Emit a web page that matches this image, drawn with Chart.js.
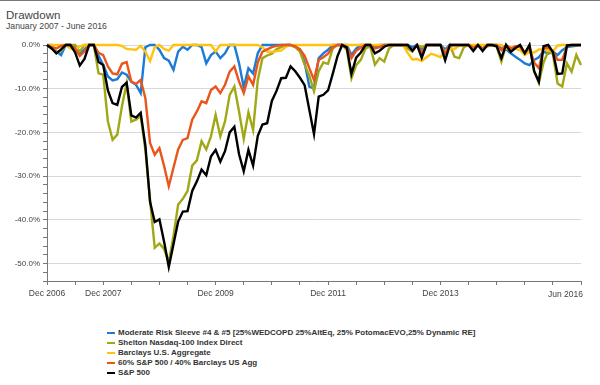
<!DOCTYPE html>
<html lang="en">
<head>
<meta charset="UTF-8">
<title>Drawdown</title>
<script src="https://cdn.jsdelivr.net/npm/chart.js"></script>
<style>
    body {
        margin: 0;
        width: 600px;
        height: 385px;
        overflow: hidden;
        background: #fff;
        position: relative;
        font-family: Arial, "Liberation Sans", sans-serif;
    }
    #topline { position: absolute; left: 0; top: 0; width: 600px; height: 1px; background: #777; }
    #title { position: absolute; left: 6px; top: 9px; font-size: 11.5px; color: #444; }
    #subtitle { position: absolute; left: 6px; top: 21px; font-size: 8.7px; color: #444; }
    #chart-box { position: absolute; left: 0; top: 0; width: 600px; height: 300px; }
    #legend { position: absolute; left: 107px; top: 328px; font-size: 8px; font-weight: bold; color: #333; }
    .item { height: 10px; line-height: 10px; white-space: nowrap; }
    .swatch { display: inline-block; width: 8px; height: 2px; vertical-align: middle; margin-right: 3px; }
</style>
</head>
<body>
<div id="topline"></div>
<div id="title">Drawdown</div>
<div id="subtitle">January 2007 - June 2016</div>
<div id="chart-box"><canvas id="ddChart"></canvas></div>
<div id="legend"></div>

<script>
    // month labels, Dec 2006 .. Jun 2016
    const monthNames = ['Jan','Feb','Mar','Apr','May','Jun','Jul','Aug','Sep','Oct','Nov','Dec'];
    const months = ['Dec 2006'];
    for (let y = 2007; y <= 2016; y++) {
        for (let i = 0; i < 12; i++) {
            if (y === 2016 && i > 5) break;
            months.push(monthNames[i] + ' ' + y);
        }
    }
    const xTickLabels = ['Dec 2006', 'Dec 2007', 'Dec 2009', 'Dec 2011', 'Dec 2013', 'Jun 2016'];

    // drawdown values in % (one row per year)
    const moderateRisk = [0,
        -0.8, -1.5, -2.3, 0, 0, -0.5, -2.0, -1.0, 0, 0, -2.5, -4.5,
        -7.2, -8.1, -7.8, -6.3, -6.8, -8.4, -9.1, -11.0, -0.5, 0, 0, -1.1,
        -3.0, -3.6, -5.7, -1.5, -0.4, -1.1, 0, 0, -0.5, -4.2, -2.3, -1.5,
        -3.0, -1.9, 0, 0, -4.2, -9.7, -5.3, -6.5, -1.9, 0, 0, 0,
        0, 0, 0, 0, -0.5, -1.0, -4.0, -9.5, -9.9, -3.0, -1.9, -1.1,
        0, 0, 0, 0, -2.3, -0.8, 0, 0, 0, -0.5, 0, 0,
        0, 0, 0, 0, 0, -0.5, 0, -1.0, 0, 0, 0, 0,
        -1.0, 0, 0, 0, 0, 0, -0.8, 0, -0.8, 0, 0, 0,
        -0.8, -1.0, -1.9, -2.7, -3.4, -4.2, -4.6, -3.4, -2.8, -1.5, -2.0, -1.5,
        -2.3, -1.2, -0.5, -0.3, -0.2, 0];
    const shelton = [0,
        0, -1.8, -1.4, 0, 0, 0, -1.5, 0, 0, 0, -6.5, -6.8,
        -17.5, -21.7, -20.5, -14.0, -8.8, -17.5, -17.1, -16.2, -24.0, -35.5, -46.4, -45.4,
        -46.7, -49.6, -43.7, -36.5, -35.2, -33.4, -27.6, -26.4, -22.0, -23.9, -20.9, -16.0,
        -20.9, -17.5, -11.4, -9.5, -15.2, -21.5, -15.4, -19.5, -8.0, -3.0, -2.4, -2.0,
        -1.0, -0.5, 0, 0, -0.5, -1.5, -4.5, -7.0, -10.6, -6.0, -4.0, -4.3,
        -0.8, 0, 0, -1.1, -7.6, -4.6, -3.4, -0.8, -0.3, -4.5, -3.0, -3.8,
        -0.8, 0, 0, 0, -0.8, -1.5, 0, -0.5, 0, 0, 0, 0,
        -1.9, 0, -2.7, -3.0, -0.5, 0, -0.5, 0, -0.8, -0.3, 0, -0.4,
        -3.8, 0, -1.5, -0.5, 0, -2.0, 0, -6.0, -8.7, -4.0, -1.5, -2.0,
        -8.8, -9.5, -4.2, -6.1, -2.3, -4.6];
    const barclaysAgg = [0,
        0, 0, 0, 0, -0.8, -1.1, -0.3, 0, 0, 0, 0, 0,
        0, 0, 0, -0.2, -0.9, -1.0, -1.1, -0.2, -1.5, -3.7, -0.5, 0,
        -0.9, -1.3, 0, 0, 0, 0, 0, 0, 0, 0, 0, -1.5,
        0, 0, 0, 0, 0, 0, 0, 0, 0, -0.5, -1.5, -1.6,
        -1.4, -1.3, -0.4, 0, 0, 0, 0, 0, 0, 0, 0, 0,
        0, 0, 0, 0, 0, 0, 0, 0, 0, 0, 0, 0,
        0, 0, 0, 0, -1.8, -3.3, -3.2, -3.7, -2.8, -2.0, -2.3, -2.8,
        -1.3, -0.8, -0.9, -0.1, 0, 0, 0, 0, 0, 0, 0, 0,
        0, -0.9, -0.5, -0.9, -1.2, -2.3, -1.6, -1.7, -1.0, -1.0, -1.2, -1.5,
        -0.1, 0, 0, 0, 0, 0];
    const mix6040 = [0,
        -0.5, -0.8, -0.2, 0, 0, -0.8, -2.5, -1.5, 0, 0, -1.8, -2.3,
        -4.9, -6.5, -6.7, -4.3, -3.9, -8.4, -8.9, -8.0, -12.2, -22.4, -25.1, -23.6,
        -27.7, -32.3, -28.1, -23.9, -21.7, -21.3, -17.1, -15.2, -12.9, -13.3, -10.3, -9.5,
        -11.0, -9.1, -6.1, -4.9, -8.4, -11.0, -7.2, -9.1, -4.0, -1.5, -1.0, -0.5,
        -0.2, 0, 0, 0, -0.3, -1.0, -2.5, -5.3, -8.0, -3.4, -2.8, -2.0,
        -0.5, 0, 0, -0.4, -3.0, -1.3, -0.6, 0, 0, -0.8, -0.5, 0,
        0, 0, 0, 0, 0, -1.4, 0, -1.9, 0, 0, 0, 0,
        -1.9, 0, 0, 0, 0, 0, -0.6, 0, -0.9, 0, 0, 0,
        -1.2, 0, -0.8, -0.3, -0.5, -1.8, -0.8, -4.0, -5.3, -0.8, -0.6, -1.5,
        -3.4, -3.4, -0.3, 0, 0, 0];
    const sp500 = [0,
        -0.8, -1.9, -1.0, 0, 0, -1.7, -4.7, -3.2, 0, 0, -3.9, -4.6,
        -10.4, -13.3, -13.7, -9.6, -8.6, -16.1, -16.6, -15.5, -23.0, -35.9, -40.5, -39.9,
        -45.0, -50.8, -45.6, -40.4, -38.1, -38.0, -33.4, -31.2, -28.5, -29.8, -25.5, -24.0,
        -26.7, -24.3, -20.0, -18.7, -25.0, -28.9, -24.0, -27.6, -20.8, -18.2, -17.9, -12.8,
        -10.5, -7.6, -7.5, -4.9, -6.0, -7.5, -9.2, -14.8, -20.4, -11.8, -11.4, -10.4,
        -6.6, -2.6, 0, -0.6, -6.6, -2.9, -1.7, 0, 0, -1.9, -1.3, -0.4,
        0, 0, 0, 0, 0, -1.3, 0, -2.9, 0, 0, 0, 0,
        -3.5, 0, 0, 0, 0, 0, -1.4, 0, -1.4, 0, 0, -0.3,
        -3.0, 0, -1.6, -0.7, 0, -1.9, 0, -6.0, -8.4, -0.3, 0, -1.6,
        -6.6, -6.5, -0.1, 0, 0, 0];

    const seriesNames = [
        'Moderate Risk Sleeve #4 & #5 [25%WEDCOPD 25%AltEq, 25% PotomacEVO,25% Dynamic RE]',
        'Shelton Nasdaq-100 Index Direct',
        'Barclays U.S. Aggregate',
        '60% S&P 500 / 40% Barclays US Agg',
        'S&P 500'
    ];
    const seriesColors = ['#1b7bd6', '#a0a815', '#ffc20e', '#e8561c', '#000000'];
    const seriesData = [moderateRisk, shelton, barclaysAgg, mix6040, sp500];
    const drawOrder = [5, 4, 3, 2, 1];   // black on top

    Chart.defaults.font.family = 'Arial, "Liberation Sans", sans-serif';

    // last x label sits flush with the right end of the axis
    const lastLabelPlugin = {
        id: 'lastLabel',
        afterDraw(chart) {
            const xs = chart.scales.x;
            const c = chart.ctx;
            c.save();
            c.font = '8.5px Arial, "Liberation Sans", sans-serif';
            c.fillStyle = '#444';
            c.textAlign = 'right';
            c.textBaseline = 'top';
            c.fillText(xTickLabels[xTickLabels.length - 1], xs.right + 2, xs.top + 9);
            c.restore();
        }
    };

    const ctx = document.getElementById('ddChart').getContext('2d');
    const ddChart = new Chart(ctx, {
        type: 'line',
        data: {
            labels: months,
            datasets: seriesData.map((d, i) => ({
                label: seriesNames[i],
                data: d,
                borderColor: seriesColors[i],
                borderWidth: 2.4,
                pointRadius: 0,
                tension: 0,
                fill: false,
                clip: false,
                order: drawOrder[i]
            }))
        },
        options: {
            responsive: true,
            maintainAspectRatio: false,
            animation: false,
            devicePixelRatio: 1,
            layout: { padding: { top: 45, right: 19, left: 0, bottom: 0 } },
            plugins: {
                legend: { display: false },
                tooltip: { enabled: false }
            },
            scales: {
                x: {
                    type: 'category',
                    offset: false,
                    border: { color: '#777', width: 1 },
                    grid: {
                        drawOnChartArea: false,
                        tickLength: 4,
                        tickColor: (c) => (c.index % 6 === 0 ? '#777' : 'transparent')
                    },
                    ticks: {
                        autoSkip: false,
                        maxRotation: 0,
                        padding: 4,
                        color: '#444',
                        font: { size: 8.5 },
                        callback: function (value) {
                            const lab = this.getLabelForValue(value);
                            if (lab === 'Jun 2016') return '';
                            return xTickLabels.includes(lab) ? lab : '';
                        }
                    },
                    afterFit: (s) => { s.height = 19; }
                },
                y: {
                    min: -54,
                    max: 0,
                    border: { color: '#777', width: 1 },
                    grid: {
                        tickLength: 4,
                        color: (c) => (c.tick && c.tick.value % 10 === 0 ? '#d8d8d8' : 'transparent'),
                        tickColor: '#777'
                    },
                    ticks: {
                        stepSize: 2,
                        autoSkip: false,
                        padding: 3,
                        color: '#444',
                        font: { size: 8 },
                        callback: (v) => (v % 10 === 0 ? v.toFixed(1) + '%' : '')
                    },
                    afterFit: (s) => { s.width = 47; }
                }
            }
        },
        plugins: [lastLabelPlugin]
    });

    // legend, one series per row
    const legendBox = document.getElementById('legend');
    seriesNames.forEach((name, i) => {
        const row = document.createElement('div');
        row.className = 'item';
        const sw = document.createElement('span');
        sw.className = 'swatch';
        sw.style.background = seriesColors[i];
        row.appendChild(sw);
        row.appendChild(document.createTextNode(name));
        legendBox.appendChild(row);
    });
</script>
</body>
</html>
